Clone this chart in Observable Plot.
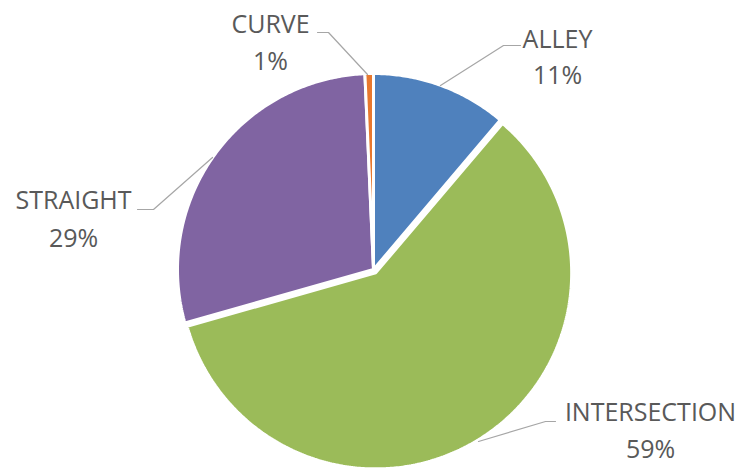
<!DOCTYPE html>
<html>
<head>
<meta charset="utf-8">
<script src="https://cdn.jsdelivr.net/npm/d3@7"></script>
<script src="https://cdn.jsdelivr.net/npm/@observablehq/plot@0.6"></script>
<style>
  html, body { margin: 0; padding: 0; background: #fff; }
  #chart svg { display: block; }
</style>
</head>
<body>
<div id="chart"></div>
<script>
// ---- data ----
const categories = ["ALLEY", "INTERSECTION", "STRAIGHT", "CURVE"];
const values = [11.2, 59.4, 28.7, 0.7];
const colors = ["#4F81BD", "#9BBB59", "#8064A2", "#E8782E"];

// ---- layout (pixels) ----
const W = 743, H = 469, CX = 373, CY = 269, R = 196;
const explode = {INTERSECTION: 4};
const labelLayout = {
  ALLEY:        {x: 557, name: 47, pct: 83,  line: [[520,45],[503,45],[440,85]]},
  INTERSECTION: {x: 650, name: 420, pct: 457, line: [[555,421],[545,421],[478,441]]},
  STRAIGHT:     {x: 73,  name: 208, pct: 246, line: [[137,209],[153,209],[212,157]]},
  CURVE:        {x: 270, name: 32,  pct: 69,  line: [[317,32],[328,32],[367,74]]}
};
const ux = px => (px - CX) / R;
const uy = py => (CY - py) / R;

// slices as polygons in unit coordinates
const total = d3.sum(values);
let acc = 0;
const slicePts = [];
categories.forEach((c, i) => {
  const a0 = acc / total * 2 * Math.PI;
  acc += values[i];
  const a1 = acc / total * 2 * Math.PI;
  const mid = (a0 + a1) / 2;
  const off = (explode[c] || 0) / R;
  const ox = off * Math.sin(mid), oy = off * Math.cos(mid);
  slicePts.push({cat: c, x: ox, y: oy});
  const n = Math.max(2, Math.ceil((a1 - a0) / 0.01));
  for (let k = 0; k <= n; k++) {
    const a = a0 + (a1 - a0) * k / n;
    slicePts.push({cat: c, x: ox + Math.sin(a), y: oy + Math.cos(a)});
  }
});

const leaderPts = [];
categories.forEach(c => labelLayout[c].line.forEach(([px, py]) => leaderPts.push({cat: c, x: ux(px), y: uy(py)})));

const labels = categories.map((c, i) => ({
  cat: c, name: c, pct: Math.round(values[i]) + "%",
  x: ux(labelLayout[c].x), yName: uy(labelLayout[c].name), yPct: uy(labelLayout[c].pct)
}));

const chart = Plot.plot({
  width: W, height: H,
  margin: 0,
  x: {domain: [ux(0), ux(W)], range: [0, W], axis: null},
  y: {domain: [uy(H), uy(0)], range: [H, 0], axis: null},
  color: {domain: categories, range: colors},
  style: {fontFamily: "'Open Sans', sans-serif", background: "#fff"},
  marks: [
    Plot.line(slicePts, {x: "x", y: "y", z: "cat", fill: "cat", stroke: "#fff", strokeWidth: 3, curve: "linear-closed", strokeLinejoin: "miter"}),
    Plot.line(leaderPts, {x: "x", y: "y", z: "cat", stroke: "#A6A6A6", strokeWidth: 1.2}),
    Plot.text(labels, {x: "x", y: "yName", text: "name", fontSize: 25, fill: "#595959", textAnchor: "middle", lineAnchor: "bottom"}),
    Plot.text(labels, {x: "x", y: "yPct", text: "pct", fontSize: 25, fill: "#595959", textAnchor: "middle", lineAnchor: "bottom"})
  ]
});
document.getElementById("chart").appendChild(chart);
</script>
</body>
</html>
